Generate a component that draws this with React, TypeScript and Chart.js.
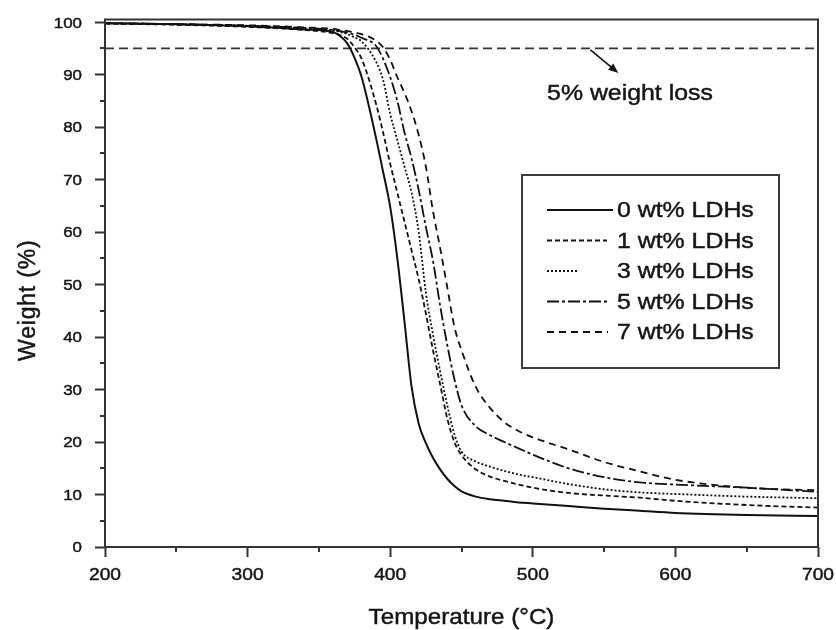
import React, { useEffect, useRef } from "react";
import { Chart, registerables } from "chart.js";

Chart.register(...registerables);

// ---- data ----
const temperatures = [200, 250, 300, 340, 360, 365, 370, 375, 380, 390, 395, 400, 405, 410, 415, 420, 425, 430, 435, 440, 445, 450, 460, 470, 480, 490, 500, 525, 550, 575, 600, 650, 700];
const weight0 = [99.8, 99.6, 99.2, 98.6, 98.1, 97.3, 95.9, 93.2, 89.5, 78, 71.5, 64.8, 55, 43, 30.5, 23.5, 19.8, 17, 14.8, 13, 11.6, 10.6, 9.6, 9.1, 8.8, 8.5, 8.3, 7.8, 7.3, 6.9, 6.5, 6.1, 5.9];
const weight1 = [99.7, 99.5, 99.1, 98.5, 97.9, 97.5, 96.8, 95.2, 93, 84.5, 79, 73, 67.5, 62, 56.5, 51, 44.5, 37.5, 31, 24.5, 20, 17.5, 14.8, 13.4, 12.6, 11.9, 11.3, 10.3, 9.8, 9.4, 8.8, 8.0, 7.5];
const weight3 = [99.8, 99.6, 99.3, 98.8, 98.4, 98.1, 97.7, 97.1, 96.3, 92.5, 89, 82.5, 77.5, 72.5, 67.5, 60, 48.5, 40.5, 33.5, 27, 21.5, 18.2, 16.3, 15.3, 14.5, 13.8, 13.3, 12, 11, 10.4, 10.1, 9.6, 9.3];
const weight5 = [99.8, 99.6, 99.3, 98.9, 98.5, 98.3, 98, 97.6, 97, 95.5, 93, 89.5, 85, 79, 74, 68, 61, 54.5, 46, 38.5, 32, 27, 23, 21.3, 20, 18.8, 17.6, 15, 13.3, 12.3, 11.9, 11.3, 10.5];
const weight7 = [99.8, 99.6, 99.4, 99, 98.7, 98.5, 98.3, 98, 97.7, 96.5, 95.2, 92.8, 89.5, 86.5, 83, 78.5, 72.5, 64, 57, 49.5, 42, 37.5, 30.5, 26.5, 23.8, 22.1, 20.9, 18.6, 16.2, 14.4, 12.8, 11.3, 10.8];
const seriesLabels = ["0 wt% LDHs", "1 wt% LDHs", "3 wt% LDHs", "5 wt% LDHs", "7 wt% LDHs"];
const seriesValues = [weight0, weight1, weight3, weight5, weight7];

const lossTemps = [200, 700];
const lossWeights = [95, 95];
const lossLabel = "5% weight loss";
const arrowFrom = [540.4, 94.7];
const arrowTo = [560, 90.3];
const lossLabelAnchor = [510, 85.1];

const xTitle = "Temperature (\u00B0C)";
const yTitle = "Weight (%)";
const xRange = [200, 700];
const yRange = [0, 100.5];
const xStep = 100;
const yStep = 10;

// ---- styles ----
const FONT = "'Liberation Sans', Arial, Helvetica, sans-serif";
const INK = "#151515";
const AXIS = "#333";
const STRETCH = 1.13;
const lineStyles = [
  { dash: [] as number[], width: 2, sample: 66 },
  { dash: [5, 3], width: 1.8, sample: 60 },
  { dash: [2, 2], width: 1.8, sample: 30 },
  { dash: [12, 3, 3, 3], width: 1.8, sample: 61 },
  { dash: [7, 5], width: 1.8, sample: 61 },
];

function stretchText(ctx: CanvasRenderingContext2D, text: string, x: number, y: number, align: "left" | "center" | "right", sx: number) {
  ctx.textAlign = "left";
  const w = ctx.measureText(text).width * sx;
  const x0 = align === "left" ? x : align === "center" ? x - w / 2 : x - w;
  ctx.save();
  ctx.translate(x0, y);
  ctx.scale(sx, 1);
  ctx.fillText(text, 0, 0);
  ctx.strokeStyle = ctx.fillStyle as string;
  ctx.lineWidth = 0.45;
  ctx.strokeText(text, 0, 0);
  ctx.restore();
}

const decorPlugin = {
  id: "decor",
  afterDraw(chart: any) {
    const ctx = chart.ctx as CanvasRenderingContext2D;
    const { left, right, top, bottom } = chart.chartArea;
    const xs = chart.scales.x;
    const ys = chart.scales.y;
    ctx.save();
    (ctx as any).letterSpacing = "0px";
    // frame
    ctx.strokeStyle = AXIS;
    ctx.lineWidth = 2;
    ctx.setLineDash([]);
    ctx.strokeRect(left, top, right - left, bottom - top);
    // minor ticks
    ctx.beginPath();
    for (let v = xRange[0] + xStep / 2; v < xRange[1]; v += xStep) {
      const px = Math.round(xs.getPixelForValue(v));
      ctx.moveTo(px, bottom);
      ctx.lineTo(px, bottom + 5);
    }
    for (let v = yStep / 2; v < 100; v += yStep) {
      const py = Math.round(ys.getPixelForValue(v));
      ctx.moveTo(left, py);
      ctx.lineTo(left - 5, py);
    }
    ctx.stroke();

    // tick labels
    ctx.fillStyle = INK;
    ctx.textBaseline = "alphabetic";
    ctx.font = `17px ${FONT}`;
    xs.ticks.forEach((t: any) => {
      stretchText(ctx, String(t.value), xs.getPixelForValue(t.value), bottom + 33, "center", STRETCH);
    });
    ctx.font = `15px ${FONT}`;
    ys.ticks.forEach((t: any) => {
      stretchText(ctx, String(t.value), left - 23, ys.getPixelForValue(t.value) + 5.4, "right", STRETCH);
    });

    // arrow
    const ax1 = xs.getPixelForValue(arrowFrom[0]);
    const ay1 = ys.getPixelForValue(arrowFrom[1]);
    const ax2 = xs.getPixelForValue(arrowTo[0]);
    const ay2 = ys.getPixelForValue(arrowTo[1]);
    const ang = Math.atan2(ay2 - ay1, ax2 - ax1);
    ctx.strokeStyle = "#111";
    ctx.fillStyle = "#111";
    ctx.lineWidth = 1.6;
    ctx.beginPath();
    ctx.moveTo(ax1, ay1);
    ctx.lineTo(ax2 - 6 * Math.cos(ang), ay2 - 6 * Math.sin(ang));
    ctx.stroke();
    ctx.beginPath();
    ctx.moveTo(ax2, ay2);
    ctx.lineTo(ax2 - 10 * Math.cos(ang) + 4 * Math.sin(ang), ay2 - 10 * Math.sin(ang) - 4 * Math.cos(ang));
    ctx.lineTo(ax2 - 10 * Math.cos(ang) - 4 * Math.sin(ang), ay2 - 10 * Math.sin(ang) + 4 * Math.cos(ang));
    ctx.closePath();
    ctx.fill();

    // annotation text
    ctx.fillStyle = INK;
    ctx.font = `22px ${FONT}`;
    stretchText(ctx, lossLabel, xs.getPixelForValue(lossLabelAnchor[0]), ys.getPixelForValue(lossLabelAnchor[1]), "left", STRETCH);

    // legend box
    const bx = 522, by = 175, bw = 257, bh = 193;
    ctx.fillStyle = "#fff";
    ctx.fillRect(bx, by, bw, bh);
    ctx.strokeStyle = "#3a3a3a";
    ctx.lineWidth = 2;
    ctx.strokeRect(bx, by, bw, bh);
    const rowH = 30.5;
    chart.data.datasets.slice(0, seriesLabels.length).forEach((ds: any, i: number) => {
      const base = by + 42 + i * rowH;
      const ly = base - 7;
      ctx.strokeStyle = "#111";
      ctx.lineWidth = ds.borderWidth;
      ctx.setLineDash(ds.borderDash || []);
      ctx.beginPath();
      ctx.moveTo(bx + 25, ly);
      ctx.lineTo(bx + 25 + lineStyles[i].sample, ly);
      ctx.stroke();
      ctx.setLineDash([]);
      ctx.fillStyle = INK;
      ctx.font = `22px ${FONT}`;
      stretchText(ctx, ds.label, bx + 95, base, "left", STRETCH);
    });

    // axis titles
    ctx.fillStyle = INK;
    ctx.font = `22px ${FONT}`;
    stretchText(ctx, xTitle, (left + right) / 2, 624, "center", 1.1);
    ctx.save();
    ctx.font = `23px ${FONT}`;
    (ctx as any).letterSpacing = "0.8px";
    ctx.textAlign = "center";
    ctx.translate(35, (top + bottom) / 2 + 17);
    ctx.rotate(-Math.PI / 2);
    ctx.fillText(yTitle, 0, 0);
    ctx.strokeStyle = INK;
    ctx.lineWidth = 0.45;
    ctx.strokeText(yTitle, 0, 0);
    ctx.restore();

    ctx.restore();
  },
};

export default function App() {
  const ref = useRef<HTMLCanvasElement>(null);
  useEffect(() => {
    document.body.style.margin = "0";
    const canvas = ref.current!;
    const datasets: any[] = seriesValues.map((vals, i) => ({
      label: seriesLabels[i],
      data: temperatures.map((t, j) => ({ x: t, y: vals[j] })),
      borderColor: "#111",
      borderWidth: lineStyles[i].width,
      borderDash: lineStyles[i].dash,
      pointRadius: 0,
      fill: false,
      cubicInterpolationMode: "monotone",
    }));
    datasets.push({
      label: lossLabel,
      data: lossTemps.map((t, j) => ({ x: t, y: lossWeights[j] })),
      borderColor: "#333",
      borderWidth: 1.6,
      borderDash: [9, 5],
      pointRadius: 0,
      fill: false,
    });
    const chart = new Chart(canvas, {
      type: "line",
      data: { datasets },
      options: {
        responsive: false,
        animation: false,
        devicePixelRatio: 1,
        layout: { padding: { left: 0, right: 18, top: 19.5, bottom: 0 } },
        plugins: { legend: { display: false }, tooltip: { enabled: false }, title: { display: false } },
        scales: {
          x: {
            type: "linear",
            min: xRange[0],
            max: xRange[1],
            ticks: { display: false, stepSize: xStep, includeBounds: false, maxRotation: 0, autoSkip: false },
            grid: { drawOnChartArea: false, drawTicks: true, tickLength: 10, tickWidth: 2, tickColor: AXIS },
            border: { display: false },
            afterFit: (s: any) => { s.height = 83; },
          },
          y: {
            type: "linear",
            min: yRange[0],
            max: yRange[1],
            ticks: { display: false, stepSize: yStep, includeBounds: false },
            grid: { drawOnChartArea: false, drawTicks: true, tickLength: 10, tickWidth: 2, tickColor: AXIS },
            border: { display: false },
            afterFit: (s: any) => { s.width = 105; },
          },
        },
      } as any,
      plugins: [decorPlugin],
    });
    return () => chart.destroy();
  }, []);
  return (
    <div style={{ position: "absolute", left: 0, top: 0, width: 836, height: 630, background: "#fff" }}>
      <canvas ref={ref} width={836} height={630} style={{ display: "block", width: 836, height: 630 }} />
    </div>
  );
}
